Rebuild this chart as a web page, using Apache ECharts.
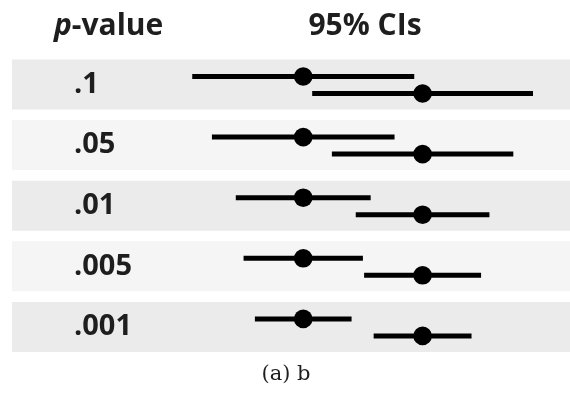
<!DOCTYPE html>
<html>
<head>
<meta charset="utf-8">
<style>
  html, body { margin: 0; padding: 0; background: #fff; }
  #chart { width: 570px; height: 394px; }
</style>
<script src="https://cdn.jsdelivr.net/npm/echarts@6/dist/echarts.min.js"></script>
</head>
<body>
<div id="chart"></div>
<script>
// rows: p-value thresholds
const pLabels = ['.1', '.05', '.01', '.005', '.001']
// two group means (in CI units) and the half-widths of their 95% CIs
const meanA = [0, 0, 0, 0, 0]
const meanB = [1, 1, 1, 1, 1]
const halfA = [0.93, 0.765, 0.565, 0.5, 0.405]
const halfB = [0.925, 0.76, 0.56, 0.49, 0.41]
const headerRight = '95% CIs'
const caption = '(a) b'

const textColor = '#1e1e1e'
const bandColors = ['#ebebeb', '#f5f5f5']

const chart = echarts.init(document.getElementById('chart'))

const bandData = pLabels.map((l, i) => [0, i])
const ciData = []
pLabels.forEach((l, i) => {
  ciData.push([meanA[i] - halfA[i], meanA[i] + halfA[i], meanA[i], i, 0])
  ciData.push([meanB[i] - halfB[i], meanB[i] + halfB[i], meanB[i], i, 1])
})

function renderBand(params, api) {
  const cs = params.coordSys
  const row = api.value(1)
  const cy = api.coord([0, row])[1]
  const h = api.size([0, 1])[1] * 0.825
  return {
    type: 'rect',
    shape: { x: cs.x, y: cy - h / 2, width: cs.width, height: h },
    style: { fill: bandColors[row % 2] }
  }
}

function renderCI(params, api) {
  const row = api.value(3)
  const y = api.coord([0, row])[1] + (api.value(4) ? 9 : -8)
  const x1 = api.coord([api.value(0), row])[0]
  const x2 = api.coord([api.value(1), row])[0]
  const cx = api.coord([api.value(2), row])[0]
  return {
    type: 'group',
    children: [
      {
        type: 'line',
        shape: { x1: x1, y1: y, x2: x2, y2: y },
        style: { stroke: '#000', lineWidth: 5 }
      },
      {
        type: 'circle',
        shape: { cx: cx, cy: y, r: 9.3 },
        style: { fill: '#000' }
      }
    ]
  }
}

const headFont = { fontWeight: 'bold', fontSize: 30, fontFamily: 'Open Sans', fill: textColor }

const option = {
  animation: false,
  grid: { left: 12, right: 0, top: 54.2, bottom: 36.8 },
  xAxis: {
    type: 'value',
    min: -2.44,
    max: 2.235,
    show: false
  },
  yAxis: {
    type: 'category',
    inverse: true,
    data: pLabels,
    z: 10,
    axisLine: { show: false },
    axisTick: { show: false },
    splitLine: { show: false },
    axisLabel: {
      align: 'left',
      margin: -62,
      padding: [10, 0, 0, 0],
      color: textColor,
      fontSize: 29,
      fontWeight: 'bold',
      fontFamily: 'Open Sans'
    }
  },
  graphic: [
    {
      type: 'text',
      x: 54,
      y: 26,
      style: {
        text: '{i|p}{n|-value}',
        textVerticalAlign: 'middle',
        rich: {
          i: Object.assign({ fontStyle: 'italic' }, headFont),
          n: headFont
        }
      }
    },
    {
      type: 'text',
      x: 365,
      y: 26,
      style: Object.assign({
        text: headerRight,
        textAlign: 'center',
        textVerticalAlign: 'middle'
      }, headFont)
    },
    {
      type: 'text',
      x: 286,
      y: 375,
      style: {
        text: caption,
        fill: textColor,
        fontSize: 21,
        fontFamily: 'DejaVu Serif',
        textAlign: 'center',
        textVerticalAlign: 'middle'
      }
    }
  ],
  series: [
    {
      type: 'custom',
      renderItem: renderBand,
      data: bandData,
      silent: true,
      z: 1
    },
    {
      type: 'custom',
      renderItem: renderCI,
      data: ciData,
      encode: { x: [0, 1, 2], y: 3 },
      silent: true,
      z: 3
    }
  ]
}

chart.setOption(option)
</script>
</body>
</html>
